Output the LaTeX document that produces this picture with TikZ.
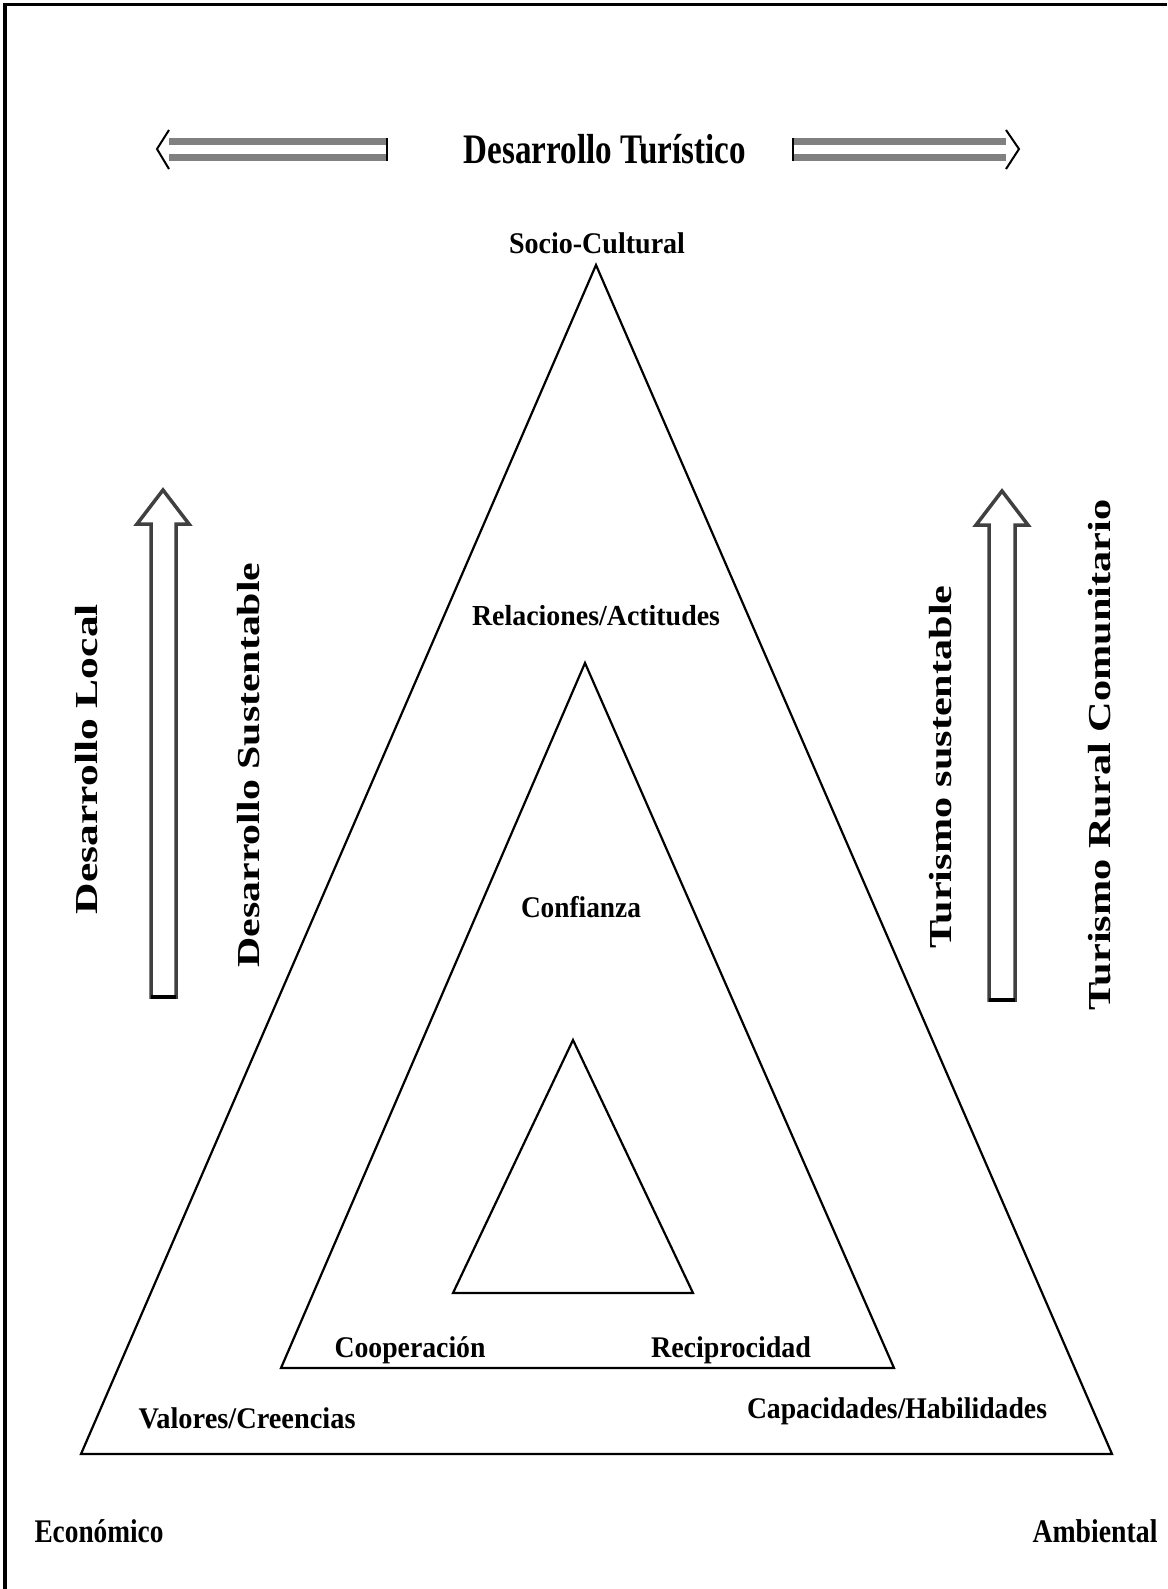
\documentclass[tikz,border=0pt]{standalone}
\usepackage{fontspec}
\setmainfont{Liberation Serif}
\usepackage{graphicx}
\newcommand\fitw[3]{\resizebox{#1pt}{\height}{\fontsize{#2}{#2}\selectfont #3}}
\begin{document}
\begin{tikzpicture}[x=1pt,y=-1pt,
  lbl/.style={inner sep=0pt, anchor=base, font=\bfseries},
  tri/.style={draw=black, line width=2.2pt, line join=miter},
  grayband/.style={draw=black!50, line width=6.5pt},
  capline/.style={draw=black, line width=2.5pt},
  chev/.style={draw=black, line width=2pt, line join=miter},
  varrow/.style={draw=black!75, line width=3.5pt, line join=miter, fill=white}
]
\useasboundingbox (0,0) rectangle (1167,1589);
\fill[white] (0,0) rectangle (1167,1589);
% frame (left and top only)
\draw[line width=3.5pt] (5,1589) -- (5,4.5) -- (1167,4.5);

% top horizontal arrows
\coordinate (lt) at (157,149);
\coordinate (lu) at (169,130);
\coordinate (ld) at (169,169);
\coordinate (lsu) at (169,141.5);
\coordinate (lsd) at (169,157.5);
\coordinate (leu) at (387,141.5);
\coordinate (led) at (387,157.5);
\draw[grayband] (lsu) -- (leu);
\draw[grayband] (lsd) -- (led);
\draw[capline] (387,138) -- (387,161);
\draw[chev] (lu) -- (lt) -- (ld);

\coordinate (rt) at (1019,149);
\coordinate (ru) at (1006,130);
\coordinate (rd) at (1006,169);
\coordinate (rsu) at (1006,141.5);
\coordinate (rsd) at (1006,157.5);
\coordinate (reu) at (793,141.5);
\coordinate (red) at (793,157.5);
\draw[grayband] (rsu) -- (reu);
\draw[grayband] (rsd) -- (red);
\draw[capline] (793,138) -- (793,161);
\draw[chev] (ru) -- (rt) -- (rd);

\node[lbl] (title) at (605,164) {\fitw{282}{42}{Desarrollo Turístico}};

% vertical arrows
\coordinate (vl) at (163,490);
\draw[varrow] (vl) -- (189,524) -- (176,524) -- (176,997) -- (151,997) -- (151,524) -- (137,524) -- cycle;
\draw[capline, line width=3.5pt] (151,997) -- (176,997);
\coordinate (vr) at (1002,491);
\draw[varrow] (vr) -- (1028,525) -- (1015,525) -- (1015,1000) -- (989,1000) -- (989,525) -- (976,525) -- cycle;
\draw[capline, line width=3.5pt] (989,1000) -- (1015,1000);

% triangles
\coordinate (A1) at (596,265);
\coordinate (B1) at (81,1454);
\coordinate (C1) at (1112,1454);
\draw[tri] (A1) -- (B1) -- (C1) -- cycle;
\coordinate (A2) at (585,663);
\coordinate (B2) at (281,1368);
\coordinate (C2) at (894,1368);
\draw[tri] (A2) -- (B2) -- (C2) -- cycle;
\coordinate (A3) at (573,1040);
\coordinate (B3) at (453,1293);
\coordinate (C3) at (693,1293);
\draw[tri] (A3) -- (B3) -- (C3) -- cycle;

% labels
\node[lbl] (soc) at (597,253) {\fitw{176}{30}{Socio-Cultural}};
\node[lbl] (rel) at (596,625) {\fitw{248}{29}{Relaciones/Actitudes}};
\node[lbl] (conf) at (581,917) {\fitw{120}{30}{Confianza}};
\node[lbl] (coop) at (410,1357) {\fitw{151}{30}{Cooperación}};
\node[lbl] (rec) at (731,1357) {\fitw{160}{30}{Reciprocidad}};
\node[lbl] (val) at (247,1428) {\fitw{217}{30}{Valores/Creencias}};
\node[lbl] (cap) at (897,1418) {\fitw{300}{30}{Capacidades/Habilidades}};
\node[lbl] (eco) at (99,1542) {\fitw{129}{33}{Económico}};
\node[lbl] (amb) at (1095,1542) {\fitw{125}{33}{Ambiental}};

% rotated labels
\node[lbl, rotate=90] (dl) at (97,759) {\fitw{310}{32}{Desarrollo Local}};
\node[lbl, rotate=90] (ds) at (259,765) {\fitw{405}{32}{Desarrollo Sustentable}};
\node[lbl, rotate=90] (ts) at (951,767) {\fitw{363}{32}{Turismo sustentable}};
\node[lbl, rotate=90] (trc) at (1110,755) {\fitw{511}{32}{Turismo Rural Comunitario}};
\end{tikzpicture}
\end{document}
